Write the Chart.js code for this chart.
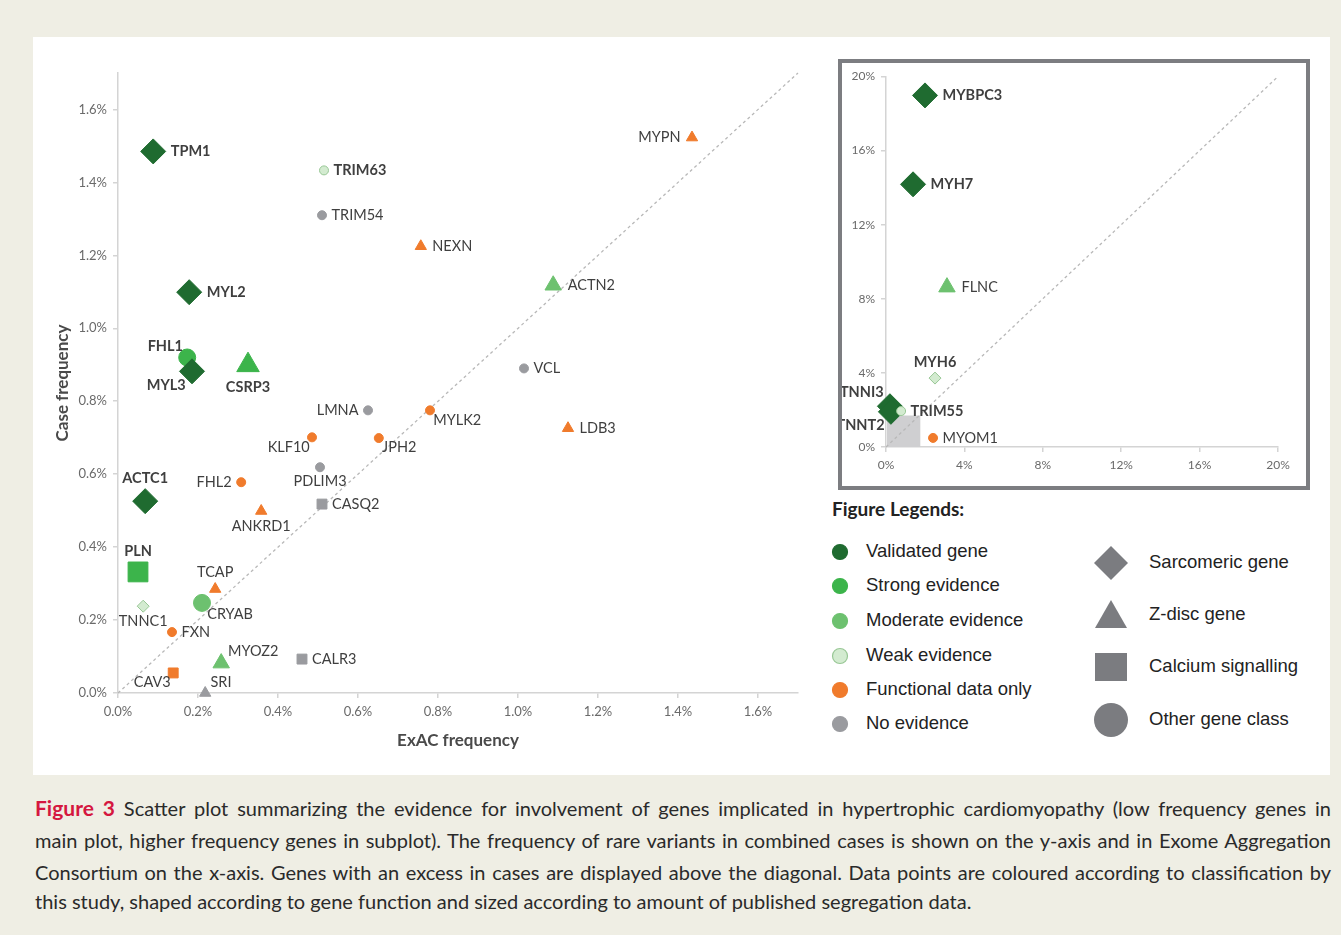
<!DOCTYPE html>
<html>
<head>
<meta charset="utf-8">
<script src="https://cdn.jsdelivr.net/npm/chart.js@4.4.1/dist/chart.umd.min.js"></script>
<style>
  html, body { margin: 0; padding: 0; }
  body { width: 1341px; height: 935px; background: #efeee4; position: relative; overflow: hidden; font-family: Lato, sans-serif; }
  #panel { position: absolute; left: 33px; top: 37px; width: 1297px; height: 738px; background: #fff; }
  #mainWrap { position: absolute; left: 40px; top: 40px; width: 780px; height: 720px; }
  #insetFrame { position: absolute; left: 838px; top: 59px; width: 464px; height: 423px; border: 4px solid #7c7d81; background: #fff; }
  #legendTitle { position: absolute; left: 832px; top: 497px; font: bold 19px Lato, sans-serif; color: #222; }
  .lg { position: absolute; font: 18.5px "Liberation Sans", Arial, sans-serif; color: #222; line-height: 22px; }
  .cap { position: absolute; left: 35px; width: 1296px; font: 20px Lato, sans-serif; color: #2a2a2a; text-align: justify; text-align-last: justify; line-height: 24px; white-space: nowrap; }
  .cap.last { text-align-last: left; }
  .fig { color: #d5173f; font-weight: bold; font-size: 21px; }
</style>
</head>
<body>
<div id="panel"></div>
<div id="mainWrap"><canvas id="main" width="780" height="720"></canvas></div>
<div id="insetFrame"><canvas id="inset" width="464" height="423"></canvas></div>
<div id="legendTitle">Figure Legends:</div>
<div id="legend"></div>
<div class="cap" style="top:796px"><span class="fig">Figure 3</span> Scatter plot summarizing the evidence for involvement of genes implicated in hypertrophic cardiomyopathy (low frequency genes in</div>
<div class="cap" style="top:828px">main plot, higher frequency genes in subplot). The frequency of rare variants in combined cases is shown on the y-axis and in Exome Aggregation</div>
<div class="cap" style="top:860px">Consortium on the x-axis. Genes with an excess in cases are displayed above the diagonal. Data points are coloured according to classification by</div>
<div class="cap last" style="top:889px">this study, shaped according to gene function and sized according to amount of published segregation data.</div>
<script>
// main plot (low frequency genes), values in %
const mainGenes = ['TPM1','TRIM63','TRIM54','NEXN','MYPN','ACTN2','MYL2','FHL1','MYL3','CSRP3','VCL','LMNA','MYLK2','LDB3','KLF10','JPH2','PDLIM3','FHL2','CASQ2','ANKRD1','ACTC1','PLN','TCAP','TNNC1','CRYAB','FXN','MYOZ2','CALR3','CAV3','SRI'];
const mainExac = [0.088,0.515,0.51,0.757,1.435,1.088,0.178,0.173,0.185,0.325,1.015,0.625,0.78,1.125,0.485,0.652,0.505,0.308,0.51,0.358,0.068,0.05,0.243,0.063,0.21,0.135,0.258,0.46,0.138,0.218];
const mainCases = [1.485,1.433,1.31,1.225,1.523,1.118,1.099,0.92,0.882,0.899,0.89,0.775,0.775,0.726,0.701,0.699,0.619,0.578,0.518,0.499,0.526,0.332,0.285,0.238,0.247,0.167,0.082,0.093,0.055,0.0];
const mainEvidence = ['validated','weak','none','functional','functional','moderate','validated','strong','validated','strong','none','none','functional','functional','functional','functional','none','functional','none','functional','validated','strong','functional','weak','moderate','functional','moderate','none','functional','none'];
const mainClass = ['sarcomeric','other','other','zdisc','zdisc','zdisc','sarcomeric','other','sarcomeric','zdisc','other','other','other','zdisc','other','other','other','other','calcium','zdisc','sarcomeric','calcium','zdisc','sarcomeric','other','other','zdisc','calcium','calcium','zdisc'];
const mainSeg = [3,1,1,1,1,2,3,2,3,3,1,1,1,1,1,1,1,1,1,1,3,3,1,1,2,1,2,1,1,1];
const mainAnchor = ['r','r','r','r','l','r','r','al','bl','b','r','l','br','r','bl','br','b','l','r','b','a','a','a','b','br','r','ar','r','bl','ar'];

// subplot (higher frequency genes), values in %
const insetGenes = ['MYBPC3','MYH7','FLNC','MYH6','TNNI3','TNNT2','TRIM55','MYOM1'];
const insetExac = [1.99,1.38,3.11,2.5,0.2,0.25,0.77,2.4];
const insetCases = [18.98,14.18,8.63,3.72,2.2,1.9,1.94,0.49];
const insetEvidence = ['validated','validated','moderate','weak','validated','validated','weak','functional'];
const insetClass = ['sarcomeric','sarcomeric','zdisc','sarcomeric','sarcomeric','sarcomeric','other','other'];
const insetSeg = [3,3,2,1,3,3,1,1];
const insetAnchor = ['r','r','r','a','al','bl','r','r'];

const boldGenes = ['TPM1','TRIM63','MYL2','FHL1','MYL3','CSRP3','ACTC1','PLN','MYBPC3','MYH7','MYH6','TNNI3','TNNT2','TRIM55'];

const mainTicks = [0,0.2,0.4,0.6,0.8,1.0,1.2,1.4,1.6];
const mainMax = 1.7;
const insetTicks = [0,4,8,12,16,20];
const insetMax = 20;

const evidenceNames = ['Validated gene','Strong evidence','Moderate evidence','Weak evidence','Functional data only','No evidence'];
const evidenceKeys = ['validated','strong','moderate','weak','functional','none'];
const classNames = ['Sarcomeric gene','Z-disc gene','Calcium signalling','Other gene class'];
const classKeys = ['sarcomeric','zdisc','calcium','other'];

const fill = { validated:'#1f6b30', strong:'#3cb44b', moderate:'#6dc16f', weak:'#d3ebd0', functional:'#f07b2c', none:'#9a9b9f' };
const edge = { validated:'#1f6b30', strong:'#3cb44b', moderate:'#6dc16f', weak:'#98c795', functional:'#f07b2c', none:'#9a9b9f' };
const styleOf = { sarcomeric:'rectRot', zdisc:'triangle', calcium:'rect', other:'circle' };
const radiusOf = {
  circle: {1:4.5, 2:8.5, 3:11},
  rectRot: {1:6, 2:9, 3:12.5},
  triangle: {1:6.5, 2:9.5, 3:13},
  rect: {1:7, 2:10, 3:14}
};

const diagonal = {
  id: 'diagonal',
  beforeDatasetsDraw(chart, args, opts) {
    const {ctx, scales: {x, y}} = chart;
    ctx.save();
    if (opts.box) {
      ctx.fillStyle = '#cfcfd1';
      const x0 = x.getPixelForValue(0), x1 = x.getPixelForValue(opts.box);
      const y0 = y.getPixelForValue(0), y1 = y.getPixelForValue(opts.box);
      ctx.fillRect(x0 + 1, y1, x1 - x0, y0 - y1);
    }
    ctx.strokeStyle = '#b8b8b8';
    ctx.lineWidth = 1.3;
    ctx.setLineDash([3, 3]);
    ctx.beginPath();
    ctx.moveTo(x.getPixelForValue(x.min), y.getPixelForValue(y.min));
    ctx.lineTo(x.getPixelForValue(x.max), y.getPixelForValue(y.max));
    ctx.stroke();
    ctx.restore();
  }
};

const geneLabels = {
  id: 'geneLabels',
  afterDatasetsDraw(chart) {
    const {ctx} = chart;
    const ds = chart.data.datasets[0];
    chart.getDatasetMeta(0).data.forEach((pt, i) => {
      const name = ds.genes[i];
      const r = pt.options.radius;
      const ext = pt.options.pointStyle === 'rect' ? r * 0.72 : r;
      const h = ext * 0.5;
      let tx = pt.x, ty = pt.y, align = 'left', base = 'middle';
      switch (ds.anchors[i]) {
        case 'r': tx = pt.x + ext + 5; break;
        case 'l': tx = pt.x - ext - 5; align = 'right'; break;
        case 'a': ty = pt.y - ext - 3; align = 'center'; base = 'bottom'; break;
        case 'b': ty = pt.y + ext + 2; align = 'center'; base = 'top'; break;
        case 'ar': tx = pt.x + h + 2; ty = pt.y - h; base = 'bottom'; break;
        case 'al': tx = pt.x - h; ty = pt.y - h; align = 'right'; base = 'bottom'; break;
        case 'br': tx = pt.x + h + 1; ty = pt.y + h; base = 'top'; break;
        case 'bl': tx = pt.x - h; ty = pt.y + h; align = 'right'; base = 'top'; break;
      }
      ctx.save();
      ctx.font = (boldGenes.includes(name) ? 'bold ' : '') + '14.5px Lato, sans-serif';
      ctx.fillStyle = '#3f3f3f';
      ctx.textAlign = align;
      ctx.textBaseline = base;
      ctx.fillText(name, tx, ty);
      ctx.restore();
    });
  }
};

function buildDataset(genes, xs, ys, ev, cls, seg, anchors) {
  return {
    data: xs.map((v, i) => ({x: v, y: ys[i]})),
    genes: genes,
    anchors: anchors,
    clip: false,
    pointStyle: c => styleOf[cls[c.dataIndex]],
    pointRadius: c => radiusOf[styleOf[cls[c.dataIndex]]][seg[c.dataIndex]],
    pointHoverRadius: c => radiusOf[styleOf[cls[c.dataIndex]]][seg[c.dataIndex]],
    backgroundColor: c => fill[ev[c.dataIndex]],
    borderColor: c => edge[ev[c.dataIndex]],
    pointBorderWidth: 1,
    showLine: false
  };
}

function axis(ticks, max, fmt, size, fixed, title) {
  return {
    type: 'linear', min: 0, max: max,
    afterBuildTicks: s => { s.ticks = ticks.map(v => ({value: v})); },
    afterFit: s => { if (s.isHorizontal()) s.height = fixed; else s.width = fixed; },
    ticks: { callback: fmt, color: '#6a6a6a', font: {family: 'Lato', size: size}, padding: 6 },
    grid: { display: true, drawOnChartArea: false, drawTicks: true, tickLength: 5, color: '#d4d4d4', lineWidth: 1.5 },
    border: { display: true, color: '#d4d4d4', width: 1.5 },
    title: title
  };
}

new Chart(document.getElementById('main'), {
  type: 'scatter',
  data: { datasets: [buildDataset(mainGenes, mainExac, mainCases, mainEvidence, mainClass, mainSeg, mainAnchor)] },
  options: {
    responsive: false, animation: false,
    layout: { padding: { top: 33, right: 22, left: 0, bottom: 0 } },
    plugins: { legend: { display: false }, tooltip: { enabled: false } },
    scales: {
      x: axis(mainTicks, mainMax, v => v.toFixed(1) + '%', 13, 67,
        { display: true, text: 'ExAC frequency', color: '#4a4a4a', font: {family: 'Lato', size: 17, weight: 'bold'}, padding: {top: 4, bottom: 9} }),
      y: axis(mainTicks, mainMax, v => v.toFixed(1) + '%', 13, 78,
        { display: true, text: 'Case frequency', color: '#4a4a4a', font: {family: 'Lato', size: 17, weight: 'bold'}, padding: {top: 12, bottom: 4} })
    }
  },
  plugins: [diagonal, geneLabels]
});

new Chart(document.getElementById('inset'), {
  type: 'scatter',
  data: { datasets: [buildDataset(insetGenes, insetExac, insetCases, insetEvidence, insetClass, insetSeg, insetAnchor)] },
  options: {
    responsive: false, animation: false,
    layout: { padding: { top: 13, right: 28, left: 0, bottom: 0 } },
    plugins: { legend: { display: false }, tooltip: { enabled: false }, diagonal: { box: mainMax } },
    scales: {
      x: axis(insetTicks, insetMax, v => v + '%', 12, 39, { display: false }),
      y: axis(insetTicks, insetMax, v => v + '%', 12, 44, { display: false })
    }
  },
  plugins: [diagonal, geneLabels]
});

// legend built from the same names and colours
const lg = document.getElementById('legend');
const evRows = [552, 586, 621, 656, 690, 724];
evidenceKeys.forEach((k, i) => {
  lg.insertAdjacentHTML('beforeend',
    `<svg class="lg" style="left:831px;top:${evRows[i] - 9}px" width="18" height="18"><circle cx="9" cy="9" r="7.5" fill="${fill[k]}" stroke="${edge[k]}" stroke-width="1.2"/></svg>` +
    `<div class="lg" style="left:866px;top:${evRows[i] - 12}px">${evidenceNames[i]}</div>`);
});
const shRows = [563, 615, 667, 720];
const shapeSvg = {
  sarcomeric: '<polygon points="17,0 34,17 17,34 0,17" fill="#7b7c80"/>',
  zdisc: '<polygon points="17,2 33,30 1,30" fill="#7b7c80"/>',
  calcium: '<rect x="1" y="3" width="32" height="28" fill="#7b7c80"/>',
  other: '<circle cx="17" cy="17" r="17" fill="#7b7c80"/>'
};
classKeys.forEach((k, i) => {
  lg.insertAdjacentHTML('beforeend',
    `<svg class="lg" style="left:1094px;top:${shRows[i] - 17}px" width="34" height="34">${shapeSvg[k]}</svg>` +
    `<div class="lg" style="left:1149px;top:${shRows[i] - 12}px">${classNames[i]}</div>`);
});
</script>
</body>
</html>
